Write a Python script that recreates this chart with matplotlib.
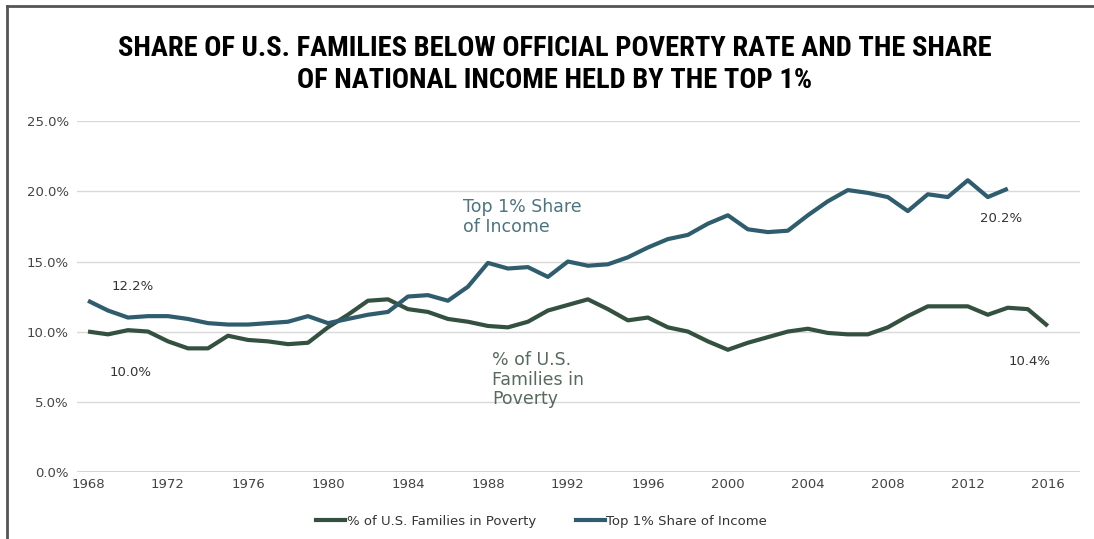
import matplotlib.pyplot as plt
import matplotlib as mpl
from matplotlib.lines import Line2D

params = {'font.family': ['DejaVu Sans'],
          'xtick.labelsize': 9.5,
          'ytick.labelsize': 9.5}
mpl.rcParams.update(params)

years_pov = list(range(1968, 2017))
poverty = [10.0, 9.8, 10.1, 10.0, 9.3, 8.8, 8.8, 9.7, 9.4, 9.3,
           9.1, 9.2, 10.3, 11.2, 12.2, 12.3, 11.6, 11.4, 10.9, 10.7,
           10.4, 10.3, 10.7, 11.5, 11.9, 12.3, 11.6, 10.8, 11.0, 10.3,
           10.0, 9.3, 8.7, 9.2, 9.6, 10.0, 10.2, 9.9, 9.8, 9.8,
           10.3, 11.1, 11.8, 11.8, 11.8, 11.2, 11.7, 11.6, 10.4]

years_top = list(range(1968, 2015))
top1 = [12.2, 11.5, 11.0, 11.1, 11.1, 10.9, 10.6, 10.5, 10.5, 10.6,
        10.7, 11.1, 10.6, 10.9, 11.2, 11.4, 12.5, 12.6, 12.2, 13.2,
        14.9, 14.5, 14.6, 13.9, 15.0, 14.7, 14.8, 15.3, 16.0, 16.6,
        16.9, 17.7, 18.3, 17.3, 17.1, 17.2, 18.3, 19.3, 20.1, 19.9,
        19.6, 18.6, 19.8, 19.6, 20.8, 19.6, 20.2]

yticks = [0, 5, 10, 15, 20, 25]
xticks = list(range(1968, 2017, 4))

c_pov = '#34503f'
c_top = '#2f5d6d'
c_txt = '#333333'

fig = plt.figure(figsize=(10.94, 5.39), dpi=100)
ax = fig.add_axes([0.0704, 0.1237, 0.9166, 0.6523])

ax.plot(years_pov, poverty, color=c_pov, lw=3, solid_capstyle='butt')
ax.plot(years_top, top1, color=c_top, lw=3, solid_capstyle='butt')

ax.set_xlim(1967.45, 2017.6)
ax.set_ylim(-0.05, 25.05)
ax.set_yticks(yticks)
ax.set_yticklabels(['%.1f%%' % v for v in yticks], color='#444444')
ax.set_xticks(xticks)
ax.set_xticklabels([str(y) for y in xticks], color='#444444')
ax.tick_params(length=0, pad=6)
ax.tick_params(axis='x', pad=4)
ax.grid(axis='y', color='#d9d9d9', lw=1)
ax.axhline(0, color='#cccccc', lw=1.2, zorder=0)
ax.set_axisbelow(True)
for s in ax.spines.values():
    s.set_visible(False)

# labels
ax.text(1969.2, 13.2, '12.2%', fontsize=9.5, color=c_txt, va='center')
ax.text(1969.1, 7.1, '10.0%', fontsize=9.5, color=c_txt, va='center')
ax.text(2012.6, 18.1, '20.2%', fontsize=9.5, color=c_txt, va='center')
ax.text(2014.05, 7.85, '10.4%', fontsize=9.5, color=c_txt, va='center')
ax.text(1986.75, 19.5, 'Top 1% Share\nof Income', fontsize=12.5, color='#4d7480',
        va='top', linespacing=1.1)
ax.text(1988.2, 8.6, '% of U.S.\nFamilies in\nPoverty', fontsize=12.5,
        color='#566b5d', va='top', linespacing=1.1)

# legend
h1 = Line2D([0], [0], color=c_pov, lw=3)
h2 = Line2D([0], [0], color=c_top, lw=3)
fig.legend((h1, h2), ('% of U.S. Families in Poverty', 'Top 1% Share of Income'),
           loc='center', bbox_to_anchor=(0.495, 0.033), ncol=2, frameon=False,
           fontsize=9.5, handlelength=2.2, handletextpad=0.1, columnspacing=3.0,
           labelcolor='#333333')

fig.text(0.507, 0.88, 'SHARE OF U.S. FAMILIES BELOW OFFICIAL POVERTY RATE AND THE SHARE\nOF NATIONAL INCOME HELD BY THE TOP 1%',
         ha='center', va='center', fontsize=20.5, fontweight='bold', fontstretch='condensed',
         family=['Roboto Condensed', 'DejaVu Sans'], linespacing=1.25,
         color='black')

# frame
fig.add_artist(Line2D([0.0064, 1.0], [0.988, 0.988], transform=fig.transFigure,
                      color='#555555', lw=2))
fig.add_artist(Line2D([0.0064, 0.0064], [0.0, 0.988], transform=fig.transFigure,
                      color='#555555', lw=2))

plt.savefig('out.png', dpi=100)
